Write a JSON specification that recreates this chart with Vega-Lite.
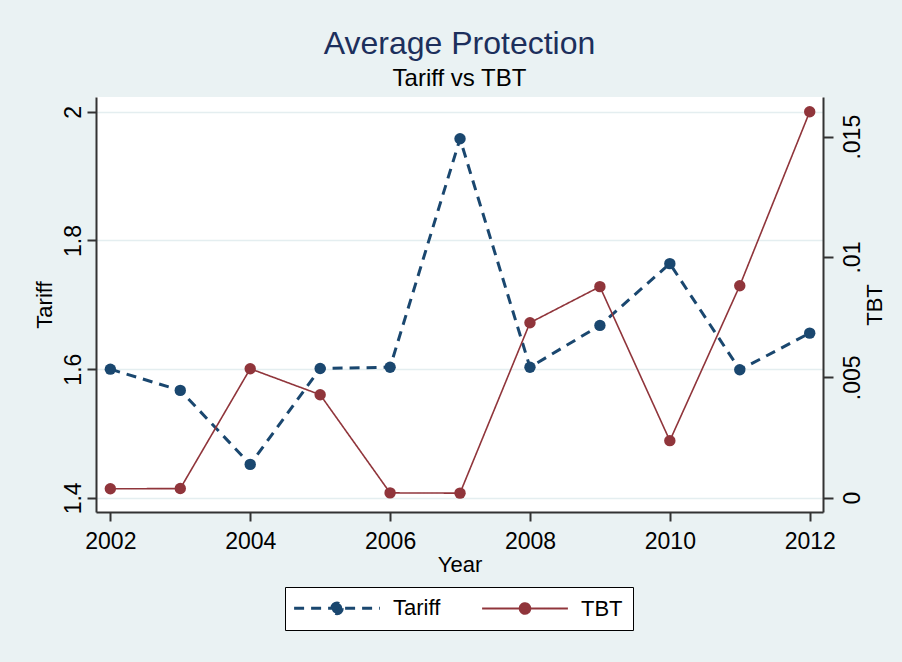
{
  "$schema": "https://vega.github.io/schema/vega-lite/v6.json",
  "width": 727,
  "height": 415,
  "autosize": {"type": "none"},
  "padding": {"left": 96, "top": 97, "right": 79, "bottom": 150},
  "background": "#eaf2f3",
  "title": {
    "text": "Average Protection",
    "subtitle": "Tariff vs TBT",
    "anchor": "middle",
    "font": "Liberation Sans",
    "fontSize": 32,
    "fontWeight": "normal",
    "color": "#1c2f5c",
    "subtitleFont": "Liberation Sans",
    "subtitleFontSize": 24,
    "subtitleColor": "black",
    "subtitlePadding": 6,
    "offset": 5
  },
  "config": {
    "view": {"fill": "white", "stroke": null},
    "font": "Liberation Sans",
    "axis": {
      "domainColor": "#333333",
      "domainWidth": 2,
      "tickColor": "#333333",
      "tickWidth": 2,
      "tickSize": 9,
      "labelFontSize": 23,
      "labelColor": "black",
      "labelFont": "Liberation Sans",
      "labelOverlap": false,
      "labelFlush": false,
      "titleFontSize": 22,
      "titleFontWeight": "normal",
      "titleColor": "black",
      "titleFont": "Liberation Sans"
    },
    "legend": {
      "orient": "none",
      "legendX": 189,
      "legendY": 490,
      "direction": "horizontal",
      "padding": 10,
      "strokeColor": "black",
      "fillColor": "white",
      "symbolType": "M-3.9,0H3.9M0.48,0A0.48,0.48,0,1,1,-0.48,0A0.48,0.48,0,1,1,0.48,0Z",
      "symbolSize": 484,
      "symbolStrokeWidth": 2,
      "symbolOffset": 31,
      "labelOffset": 45,
      "columnPadding": 37,
      "labelFontSize": 22,
      "labelColor": "black",
      "labelFont": "Liberation Sans"
    }
  },
  "data": {
    "values": [
      {"year": 2002, "Tariff": 1.600, "TBT": 0.00037},
      {"year": 2003, "Tariff": 1.567, "TBT": 0.00038},
      {"year": 2004, "Tariff": 1.452, "TBT": 0.00536},
      {"year": 2005, "Tariff": 1.601, "TBT": 0.00428},
      {"year": 2006, "Tariff": 1.603, "TBT": 0.00020},
      {"year": 2007, "Tariff": 1.958, "TBT": 0.00019},
      {"year": 2008, "Tariff": 1.603, "TBT": 0.00727},
      {"year": 2009, "Tariff": 1.668, "TBT": 0.00877},
      {"year": 2010, "Tariff": 1.764, "TBT": 0.00237},
      {"year": 2011, "Tariff": 1.599, "TBT": 0.00881},
      {"year": 2012, "Tariff": 1.656, "TBT": 0.01604}
    ]
  },
  "encoding": {
    "x": {
      "field": "year",
      "type": "quantitative",
      "scale": {"domain": [2001.795, 2012.19], "nice": false, "zero": false},
      "axis": {
        "values": [2002, 2004, 2006, 2008, 2010, 2012],
        "format": "d",
        "labelAngle": 0,
        "labelPadding": 9,
        "title": "Year",
        "titlePadding": 1,
        "grid": false
      }
    }
  },
  "layer": [
    {
      "mark": {"type": "line", "strokeWidth": 3, "point": {"filled": true, "size": 130}},
      "encoding": {
        "y": {
          "field": "Tariff",
          "type": "quantitative",
          "scale": {"domain": [1.378, 2.023], "nice": false, "zero": false},
          "axis": {
            "orient": "left",
            "values": [1.4, 1.6, 1.8, 2],
            "format": ".1~f",
            "labelAngle": 270,
            "labelAlign": "center",
            "labelBaseline": "alphabetic",
            "labelPadding": 7,
            "title": "Tariff",
            "titlePadding": 6,
            "grid": true,
            "gridColor": "#e4eef0",
            "gridWidth": 1.5
          }
        },
        "color": {
          "datum": "Tariff",
          "scale": {"domain": ["Tariff", "TBT"], "range": ["#1a476f", "#90353b"]},
          "legend": {
            "title": null,
            "encode": {"symbols": {"update": {"fill": {"scale": "color", "field": "value"}, "strokeWidth": {"signal": "datum.value === 'Tariff' ? 3 : 2"}}}}
          }
        },
        "strokeDash": {
          "datum": "Tariff",
          "scale": {"domain": ["Tariff", "TBT"], "range": [[10, 7], [1, 0]]},
          "legend": {
            "title": null,
            "encode": {"symbols": {"update": {"fill": {"scale": "color", "field": "value"}, "strokeWidth": {"signal": "datum.value === 'Tariff' ? 3 : 2"}}}}
          }
        }
      }
    },
    {
      "mark": {"type": "line", "strokeWidth": 1.6, "point": {"filled": true, "size": 130}},
      "encoding": {
        "y": {
          "field": "TBT",
          "type": "quantitative",
          "scale": {"domain": [-0.000594, 0.01665], "nice": false, "zero": false},
          "axis": {
            "orient": "right",
            "values": [0, 0.005, 0.01, 0.015],
            "labelExpr": "replace(format(datum.value, '~g'), '0.', '.')",
            "labelAngle": 270,
            "labelAlign": "center",
            "labelBaseline": "top",
            "labelPadding": 8,
            "tickSize": 10,
            "title": "TBT",
            "titleAngle": 270,
            "titleBaseline": "top",
            "titlePadding": 0,
            "grid": false
          }
        },
        "color": {"datum": "TBT"},
        "strokeDash": {"datum": "TBT"}
      }
    }
  ],
  "resolve": {"scale": {"y": "independent"}}
}
